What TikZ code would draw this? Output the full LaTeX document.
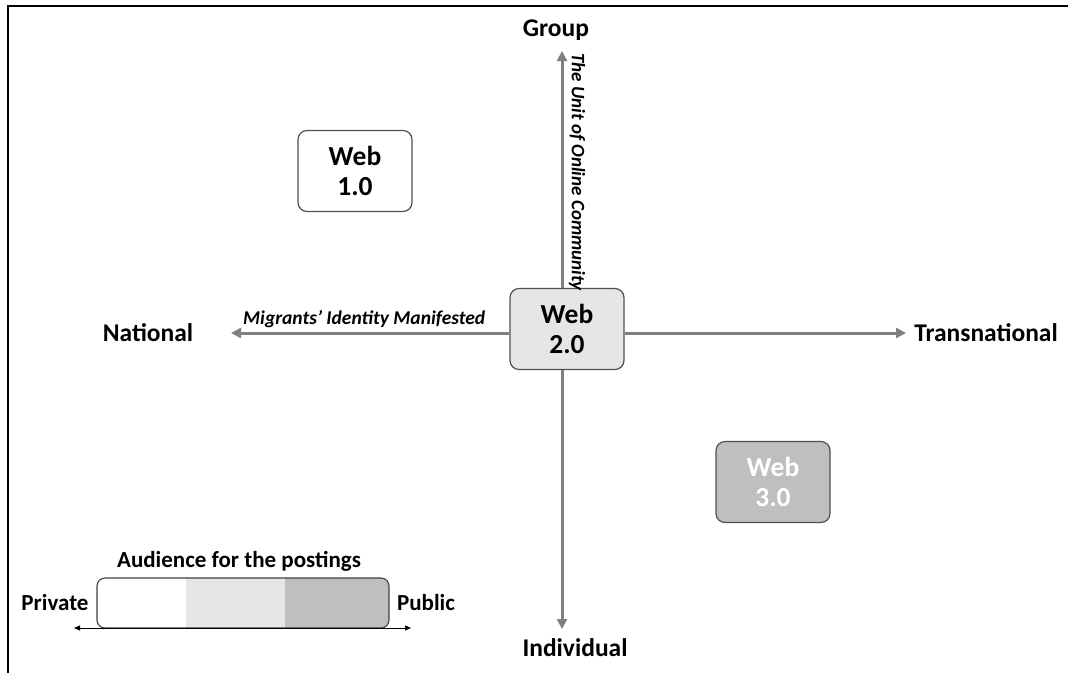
\documentclass[tikz,border=0pt]{standalone}
\usepackage{fontspec}
\setmainfont{Carlito}
\usetikzlibrary{arrows.meta}
\definecolor{axisgray}{HTML}{808080}
\definecolor{lightfill}{HTML}{E6E6E6}
\definecolor{midfill}{HTML}{BFBFBF}
\definecolor{boxline}{HTML}{505050}
\tikzset{
  axislabel/.style={font=\fontsize{25.5}{28}\selectfont\bfseries, inner sep=0pt},
  webbox/.style={draw=boxline, line width=1.2pt, rounded corners=9pt, minimum width=114, minimum height=81, align=center, font=\fontsize{27.5}{30}\selectfont\bfseries, inner sep=0pt},
  axisarrow/.style={draw=axisgray, line width=3pt, -{Triangle[length=10pt,width=10pt]}},
  axisnote/.style={font=\fontsize{19.5}{22}\selectfont\bfseries\itshape, inner sep=0pt},
  legendtext/.style={font=\fontsize{23}{25}\selectfont\bfseries, inner sep=0pt},
}
\begin{document}
\begin{tikzpicture}[x=1pt,y=-1pt]
\useasboundingbox (0,0) rectangle (1068,673);
\fill[white] (0,0) rectangle (1068,673);
% frame
\draw[line width=2pt] (8,673) -- (8,6) -- (1068,6);

% axis labels
\node[axislabel] (group) at (556,30) {Group};
\node[axislabel] (indiv) at (575,648) {Individual};
\node[axislabel] (nat) at (148,333) {National};
\node[axislabel] (trans) at (986,333) {Transnational};

% boxes
\node[webbox, fill=lightfill] (w2) at (567,329) {Web\\2.0};
\node[webbox, fill=white] (w1) at (355,171) {Web\\1.0};
\node[webbox, fill=midfill, text=white] (w3) at (773,482) {Web\\3.0};

% axes
\coordinate (ctop) at (562,51);
\coordinate (cbot) at (562,629);
\coordinate (cleft) at (231,333);
\coordinate (cright) at (906,333);
\draw[axisarrow] (w2.north -| ctop) -- (ctop);
\draw[axisarrow] (w2.south -| cbot) -- (cbot);
\draw[axisarrow] (w2.west |- cleft) -- (cleft);
\draw[axisarrow] (w2.east |- cright) -- (cright);

% axis notes
\node[axisnote, font=\fontsize{19}{22}\selectfont\bfseries\itshape, rotate=-90, anchor=center] (unit) at (577,172) {The Unit of Online Community};
\node[axisnote, anchor=south west] (migr) at (243,328) {Migrants’ Identity Manifested};

% legend
\node[legendtext] (aud) at (239,561) {Audience for the postings};
\begin{scope}
  \clip[rounded corners=8pt] (97,578) rectangle (389,628);
  \fill[white] (97,578) rectangle (186,628);
  \fill[lightfill] (186,578) rectangle (285,628);
  \fill[midfill] (285,578) rectangle (389,628);
\end{scope}
\node[draw=black!75, line width=1.1pt, rounded corners=8pt, minimum width=292, minimum height=50, inner sep=0pt] (bar) at (243,603) {};
\node[legendtext] (priv) at (55,603) {Private};
\node[legendtext] (pub) at (426,603) {Public};
\coordinate (la) at (74,628);
\coordinate (lb) at (411,628);
\draw[line width=0.8pt, {Triangle[length=6pt,width=5pt]}-{Triangle[length=6pt,width=5pt]}] (la) -- (lb);
\end{tikzpicture}
\end{document}
